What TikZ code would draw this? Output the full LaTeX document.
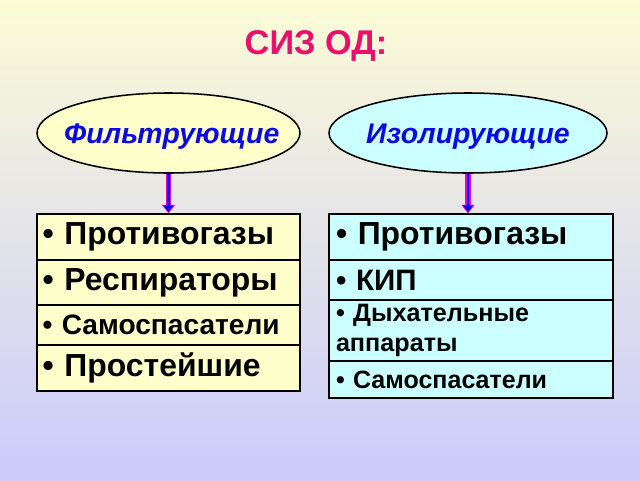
\documentclass[tikz,border=0pt]{standalone}
\usepackage{fontspec}
\setmainfont{Liberation Sans}
\usetikzlibrary{shapes.geometric,arrows.meta}

\definecolor{titlered}{RGB}{232,16,104}
\definecolor{ovalblue}{RGB}{10,10,225}
\definecolor{paleyellow}{RGB}{255,255,204}
\definecolor{palecyan}{RGB}{204,255,255}
\definecolor{bgtop}{RGB}{252,251,214}
\definecolor{bgbottom}{RGB}{203,203,252}
\definecolor{arrowrim}{RGB}{235,0,200}

\begin{document}
\begin{tikzpicture}[
    oval/.style={ellipse, draw, line width=1.1pt, inner sep=0pt, minimum height=2cm},
    ovaltext/.style={font=\fontsize{20.2}{24}\selectfont\bfseries\itshape, text=ovalblue, yshift=-0.08cm},
    lbox/.style={rectangle, draw, line width=1pt, fill=paleyellow, inner xsep=0.14cm,
        text width=6.295cm, align=left, font=\bfseries},
    rbox/.style={rectangle, draw, line width=1pt, fill=palecyan, inner xsep=0.175cm,
        text width=6.75cm, align=left, font=\bfseries},
    big/.style={font=\fontsize{22.7}{26}\selectfont\bfseries},
    arrowrimline/.style={draw=arrowrim, line width=3.6pt, -{Triangle[length=6pt, width=9.5pt, line width=0pt]}},
    arrowcore/.style={draw=blue, line width=2pt, shorten >=0.9pt, -{Triangle[length=4.6pt, width=6.8pt, line width=0pt]}}
]
    \shade[top color=bgtop, bottom color=bgbottom] (0, 0) rectangle (16, -12);
    \useasboundingbox (0, 0) rectangle (16, -12);

    \node (title) [anchor=base, text=titlered, font=\fontsize{24.4}{28}\selectfont\bfseries] at (7.9, -1.35) {СИЗ ОД:};

    \node (filtr) [oval, fill=paleyellow, minimum width=6.575cm,
        label={[ovaltext, xshift=0.08cm]center:Фильтрующие}] at (4.2125, -3.325) {};
    \node (izol) [oval, fill=palecyan, minimum width=6.95cm,
        label={[ovaltext]center:Изолирующие}] at (11.7, -3.325) {};

    % левый столбец
    \node (f1) [lbox, big, minimum height=1.15cm] at (4.2125, -5.925) {• Противогазы};
    \node (f2) [lbox, big, minimum height=1.125cm] at (4.2125, -7.0625) {• Респираторы};
    \node (f3) [lbox, font=\fontsize{20}{24}\selectfont\bfseries, minimum height=1cm] at (4.2125, -8.125) {• Самоспасатели};
    \node (f4) [lbox, big, minimum height=1.15cm] at (4.2125, -9.2) {• Простейшие};

    % правый столбец
    \node (i1) [rbox, big, minimum height=1.15cm] at (11.775, -5.925) {• Противогазы};
    \node (i2) [rbox, font=\fontsize{21}{24}\selectfont\bfseries, minimum height=1cm] at (11.775, -7.0) {• КИП};
    \node (i3) [rbox, font=\fontsize{17.9}{20.8}\selectfont\bfseries, minimum height=1.525cm] at (11.775, -8.2625) {• Дыхательные\\аппараты};
    \node (i4) [rbox, font=\fontsize{17.8}{21}\selectfont\bfseries, minimum height=0.925cm] at (11.775, -9.4875) {• Самоспасатели};

    % стрелки
    \draw[arrowrimline] (filtr.south) -- (filtr.south |- f1.north);
    \draw[arrowcore] (filtr.south) -- (filtr.south |- f1.north);
    \draw[arrowrimline] (izol.south) -- (izol.south |- i1.north);
    \draw[arrowcore] (izol.south) -- (izol.south |- i1.north);
\end{tikzpicture}
\end{document}
